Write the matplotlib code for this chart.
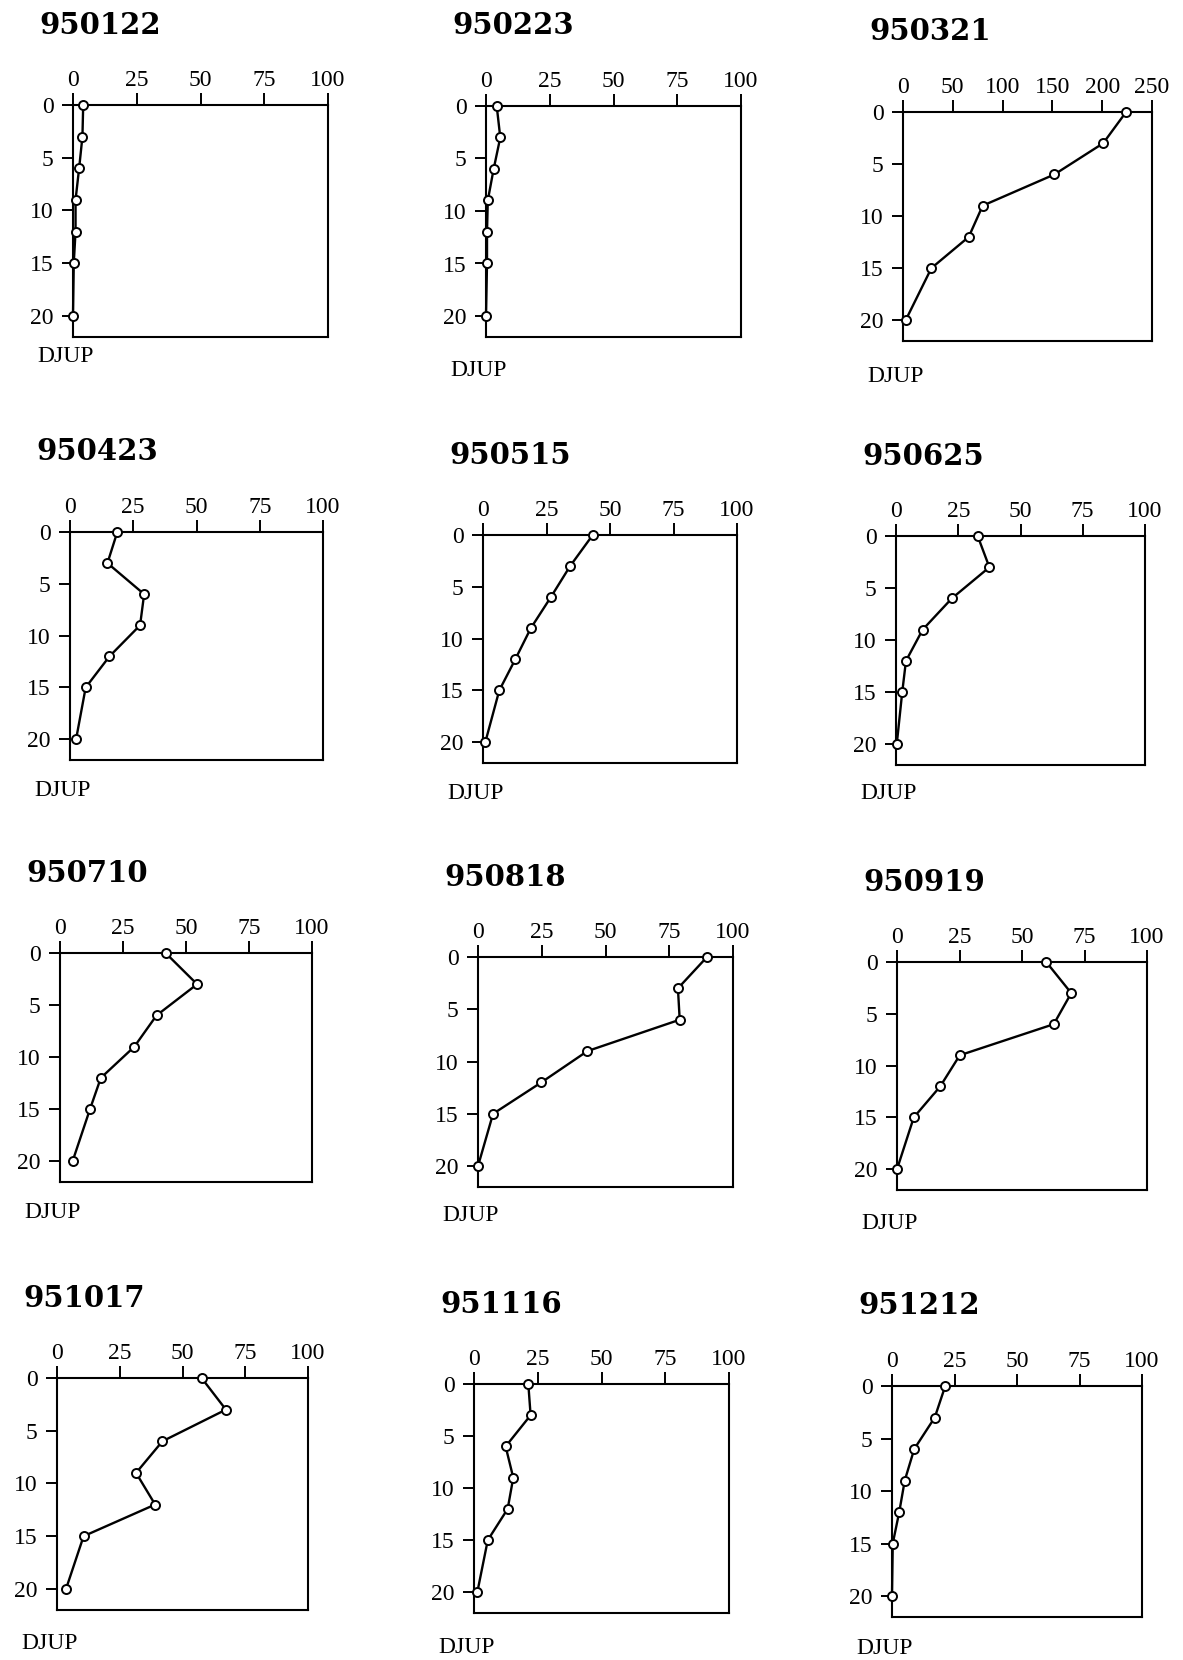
import matplotlib.pyplot as plt
import numpy as np

plt.rcParams['font.family'] = ['Liberation Serif', 'DejaVu Serif']

# Provtagningsdatum (titlar)
datum = ['950122', '950223', '950321',
         '950423', '950515', '950625',
         '950710', '950818', '950919',
         '951017', '951116', '951212']

# Djup (m)
djup = [0, 3, 6, 9, 12, 15, 20]

# Uppmätta värden per datum
v950122 = [4, 3.7, 2.4, 1, 1, 0.3, 0]
v950223 = [4.2, 5.6, 3, 0.7, 0.4, 0.4, 0]
v950321 = [224, 201, 152, 80, 66, 28.5, 2.7]
v950423 = [18.7, 14.8, 29.3, 27.7, 15.6, 6.2, 2.4]
v950515 = [43.2, 34.3, 26.7, 18.8, 12.7, 6.4, 0.9]
v950625 = [32.8, 37.5, 22.4, 10.7, 4, 2.5, 0.3]
v950710 = [41.9, 54.4, 38.3, 29.5, 16.2, 11.9, 5]
v950818 = [89.8, 78.4, 79.1, 42.9, 24.8, 5.9, 0]
v950919 = [59.7, 69.7, 62.7, 25.1, 17.3, 6.7, 0]
v951017 = [57.6, 67.3, 42, 31.5, 39.1, 10.6, 3.6]
v951116 = [21.3, 22.2, 12.4, 15.4, 13.2, 5.4, 1.3]
v951212 = [21.3, 17.1, 8.9, 5.1, 2.9, 0.3, 0]

varden = [v950122, v950223, v950321, v950423, v950515, v950625,
          v950710, v950818, v950919, v951017, v951116, v951212]

# x-axelns max
xmax = [100, 100, 250, 100, 100, 100, 100, 100, 100, 100, 100, 100]

# Placering i pixlar: vänster, topp (djup 0), höger, botten
W, H = 1183, 1660
rutor = [(73, 105, 328, 337), (486, 106, 741, 337), (903, 112, 1152, 341),
         (70, 532, 323, 760), (483, 535, 737, 763), (896, 536, 1145, 765),
         (60, 953, 312, 1182), (478, 957, 733, 1187), (897, 962, 1147, 1190),
         (57, 1378, 308, 1610), (474, 1384, 729, 1613), (892, 1386, 1142, 1617)]
# avstånd från boxens botten till DJUP-texten (px)
djup_dy = [20, 34, 35, 30, 30, 28, 30, 28, 33, 33, 34, 31]

fig = plt.figure(figsize=(W / 100, H / 100), dpi=100)

for i in range(12):
    l, t, r, b = rutor[i]
    ax = fig.add_axes([l / W, 1 - b / H, (r - l) / W, (b - t) / H])
    ax.plot(varden[i], djup, 'k-', lw=1.7, marker='o', ms=6.5,
            mfc='white', mec='black', mew=1.4, clip_on=False, zorder=3)
    ax.set_xlim(0, xmax[i])
    ax.set_ylim(22, 0)
    if xmax[i] == 250:
        ax.set_xticks(np.arange(0, 251, 50))
    else:
        ax.set_xticks(np.arange(0, 101, 25))
    ax.set_yticks([0, 5, 10, 15, 20])
    ax.xaxis.tick_top()
    ax.tick_params(axis='x', direction='out', length=9, width=1.4,
                   pad=1, labelsize=17)
    ax.tick_params(axis='y', direction='out', length=8, width=1.4,
                   pad=6, labelsize=17)
    for s in ax.spines.values():
        s.set_linewidth(1.5)

    # Titel och DJUP-etikett
    fig.text((l - 34) / W, 1 - (t - 80) / H, datum[i], fontsize=21,
             family='DejaVu Serif', fontweight='bold', va='center', ha='left')
    fig.text((l - 36) / W, 1 - (b + djup_dy[i]) / H, 'DJUP', fontsize=17,
             va='center', ha='left')

plt.savefig('out.png', dpi=100, facecolor='white')
